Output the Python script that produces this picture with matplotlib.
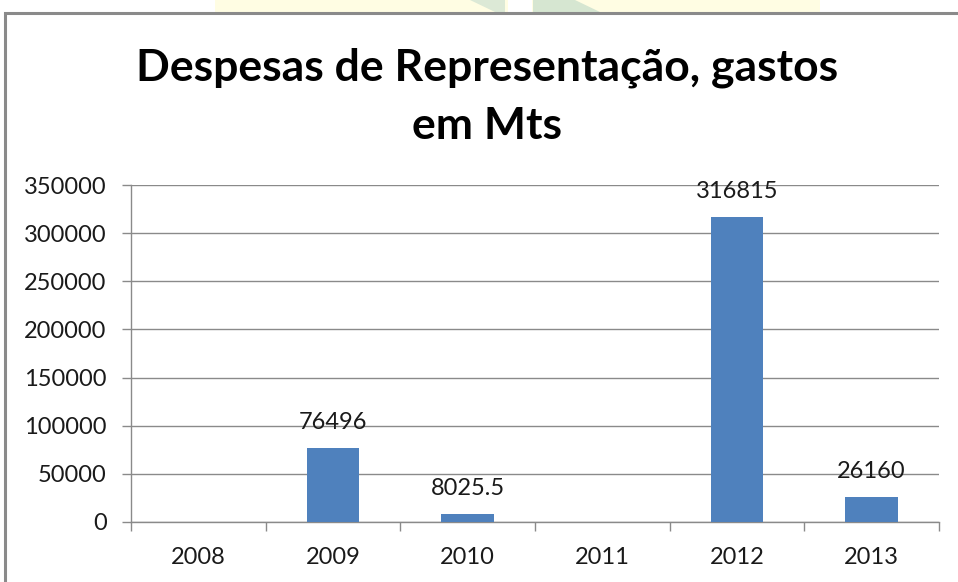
import matplotlib
matplotlib.use("Agg")
import matplotlib.pyplot as plt
from matplotlib.patches import Rectangle, Polygon

years = ["2008", "2009", "2010", "2011", "2012", "2013"]
values = [0, 76496, 8025.5, 0, 316815, 26160]
labels = ["", "76496", "8025.5", "", "316815", "26160"]
yticks = [0, 50000, 100000, 150000, 200000, 250000, 300000, 350000]

W, H = 958, 582
fig = plt.figure(figsize=(W / 100, H / 100), dpi=100)
fig.patch.set_facecolor("white")

# faint watermark strip above chart border
fig.patches.append(Rectangle((215 / W, 1 - 12 / H), 605 / W, 12 / H, transform=fig.transFigure,
                             facecolor="#FFFDE3", edgecolor="none", zorder=0))
fig.patches.append(Polygon([(470 / W, 1), (505 / W, 1), (505 / W, 1 - 12 / H), (495 / W, 1 - 12 / H)],
                           closed=True, transform=fig.transFigure, facecolor="#DCE9D6", edgecolor="none", zorder=0))
fig.patches.append(Rectangle((508 / W, 1 - 12 / H), 24 / W, 12 / H, transform=fig.transFigure,
                             facecolor="white", edgecolor="none", zorder=0))
fig.patches.append(Polygon([(533 / W, 1), (575 / W, 1), (600 / W, 1 - 12 / H), (533 / W, 1 - 12 / H)],
                           closed=True, transform=fig.transFigure, facecolor="#D6E6D1", edgecolor="none", zorder=0))

# chart border
fig.patches.append(Rectangle((4.5 / W, -0.1), 1.2, 1 - 12.5 / H + 0.1, transform=fig.transFigure,
                             facecolor="none", edgecolor="#8A8A8A", linewidth=2.2, zorder=1))

ax = fig.add_axes([131 / W, (H - 522) / H, (939 - 131) / W, (522 - 185) / H])
ax.set_facecolor("none")
x = list(range(len(years)))
ax.bar(x, values, width=0.39, color="#4F81BD", zorder=3)

for xi, v, lab in zip(x, values, labels):
    if lab:
        ax.annotate(lab, (xi, v), xytext=(0, 11), textcoords="offset points",
                    ha="center", va="bottom", fontsize=17, family="Lato", color="#1a1a1a")

ax.set_xlim(-0.5, 5.5)
ax.set_ylim(0, 350000)
ax.set_yticks(yticks)
ax.set_yticklabels([str(t) for t in yticks])
ax.set_xticks(x)
ax.set_xticklabels(years)
ax.set_xticks([i - 0.5 for i in range(len(years) + 1)], minor=True)
ax.tick_params(axis="x", which="major", length=0, pad=18, labelsize=17, labelcolor="#1a1a1a")
ax.tick_params(axis="x", which="minor", length=6.5, width=1, color="#8A8A8A", direction="out")
ax.tick_params(axis="y", length=6.5, width=1, color="#8A8A8A", pad=11, labelsize=17, labelcolor="#1a1a1a")
for lab in ax.get_xticklabels() + ax.get_yticklabels():
    lab.set_family("Lato")
ax.grid(axis="y", color="#8A8A8A", linewidth=1, zorder=0)
ax.set_axisbelow(True)
for s in ["top", "right"]:
    ax.spines[s].set_visible(False)
for s in ["left", "bottom"]:
    ax.spines[s].set_color("#8A8A8A")
    ax.spines[s].set_linewidth(1)

fig.text(487 / W, 1 - 68 / H, "Despesas de Representação, gastos", ha="center", va="center",
         fontsize=32, fontweight="bold", family="Lato", color="black")
fig.text(487 / W, 1 - 126 / H, "em Mts", ha="center", va="center",
         fontsize=32, fontweight="bold", family="Lato", color="black")

fig.savefig("out.png", dpi=100)
